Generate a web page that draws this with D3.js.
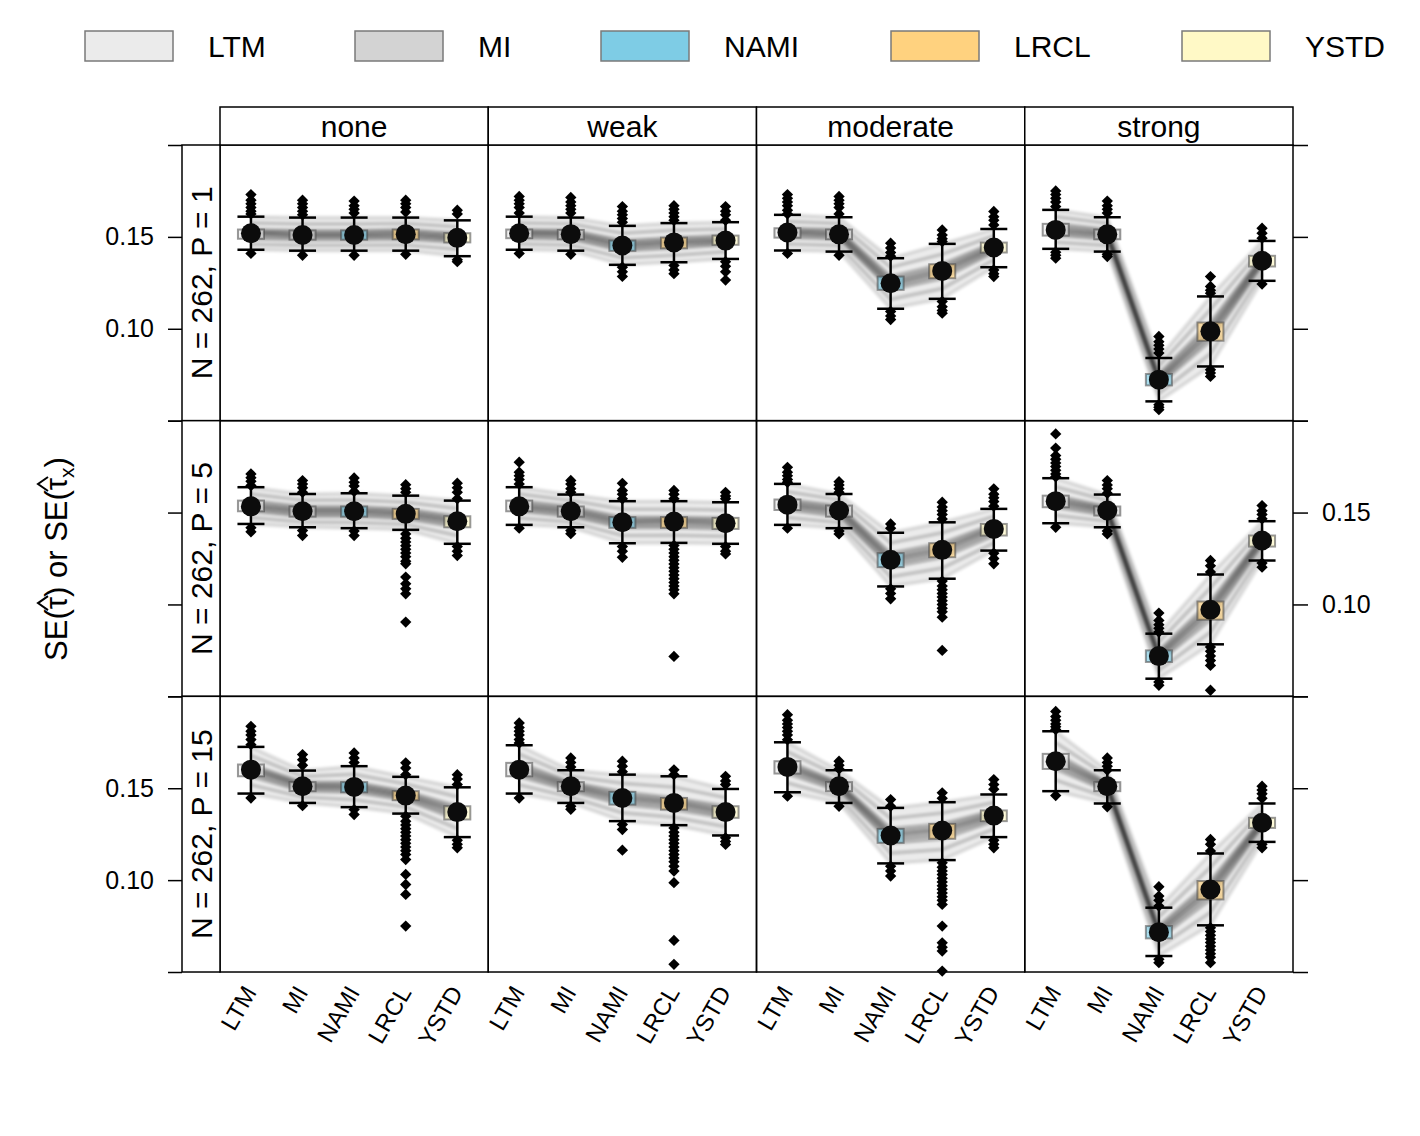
<!DOCTYPE html>
<html>
<head>
<meta charset="utf-8">
<script src="https://cdn.jsdelivr.net/npm/d3@7"></script>
<style>
  body { margin: 0; background: #fff; }
  svg { font-family: "Liberation Sans", Arial, sans-serif; }
</style>
</head>
<body>
<script>
// categories
const methods = ["LTM", "MI", "NAMI", "LRCL", "YSTD"];
const strengths = ["none", "weak", "moderate", "strong"];
const rowLabels = ["N = 262, P = 1", "N = 262, P = 5", "N = 262, P = 15"];
const fills = ["#EBEBEB", "#D3D3D3", "#7ECCE5", "#FFD27F", "#FFF9C6"];
const yTicks = [0.05, 0.10, 0.15, 0.20];
const yLabelled = [0.10, 0.15];

// per panel (row-major: P=1 none..strong, P=5 ..., P=15 ...), per method
const whiskerHigh = [
  [0.161, 0.1605, 0.1605, 0.1605, 0.159],
  [0.161, 0.1605, 0.156, 0.1575, 0.158],
  [0.162, 0.1607, 0.1384, 0.1462, 0.1543],
  [0.1647, 0.1607, 0.0841, 0.1176, 0.1478],
  [0.1638, 0.1601, 0.1605, 0.1592, 0.1565],
  [0.1638, 0.1598, 0.1562, 0.1562, 0.1556],
  [0.1656, 0.1601, 0.139, 0.1447, 0.152],
  [0.1687, 0.1598, 0.0841, 0.1163, 0.1453],
  [0.1725, 0.1596, 0.162, 0.1562, 0.1505],
  [0.1734, 0.1598, 0.1574, 0.1565, 0.1496],
  [0.175, 0.1598, 0.1393, 0.1424, 0.1466],
  [0.181, 0.1598, 0.085, 0.1145, 0.1417]
];
const boxHigh = [
  [0.154, 0.1535, 0.1535, 0.154, 0.152],
  [0.154, 0.1538, 0.148, 0.1496, 0.1507],
  [0.1547, 0.154, 0.1284, 0.1351, 0.1469],
  [0.1571, 0.154, 0.0754, 0.1034, 0.1397],
  [0.1565, 0.1533, 0.1533, 0.152, 0.148],
  [0.1565, 0.1533, 0.1475, 0.1475, 0.1471],
  [0.1571, 0.1538, 0.1279, 0.1333, 0.1438],
  [0.1592, 0.1533, 0.075, 0.1016, 0.1375],
  [0.1629, 0.1533, 0.1533, 0.1484, 0.1402],
  [0.1638, 0.1533, 0.148, 0.1447, 0.1402],
  [0.1647, 0.1533, 0.1279, 0.1306, 0.1379],
  [0.1687, 0.1533, 0.075, 0.0995, 0.1339]
];
const medians = [
  [0.152, 0.151, 0.151, 0.1515, 0.1495],
  [0.152, 0.1515, 0.1453, 0.147, 0.148],
  [0.1524, 0.1514, 0.1248, 0.1315, 0.1442],
  [0.1538, 0.1514, 0.0723, 0.0986, 0.137],
  [0.1534, 0.1507, 0.1507, 0.1493, 0.1453],
  [0.1534, 0.1507, 0.1447, 0.1451, 0.1442],
  [0.1543, 0.1511, 0.1243, 0.1297, 0.1411],
  [0.1562, 0.1511, 0.0719, 0.0971, 0.1348],
  [0.1601, 0.1511, 0.1507, 0.146, 0.137],
  [0.1601, 0.1511, 0.1447, 0.142, 0.137],
  [0.1616, 0.1511, 0.1243, 0.127, 0.1351],
  [0.1647, 0.1511, 0.0717, 0.0949, 0.1312]
];
const boxLow = [
  [0.149, 0.1485, 0.1485, 0.1487, 0.147],
  [0.1493, 0.1487, 0.1424, 0.1438, 0.1457],
  [0.1496, 0.1487, 0.1212, 0.1275, 0.1415],
  [0.1507, 0.1487, 0.0692, 0.0935, 0.1339],
  [0.1507, 0.1478, 0.1478, 0.1466, 0.142],
  [0.1507, 0.1478, 0.1417, 0.1417, 0.1411],
  [0.1514, 0.1478, 0.1203, 0.1257, 0.1375],
  [0.1529, 0.1484, 0.0687, 0.0917, 0.1315],
  [0.1565, 0.1484, 0.1478, 0.1435, 0.133],
  [0.1565, 0.1484, 0.1411, 0.1384, 0.1339],
  [0.158, 0.1484, 0.1203, 0.1225, 0.1321],
  [0.1605, 0.1484, 0.0683, 0.0895, 0.1284]
];
const whiskerLow = [
  [0.143, 0.1425, 0.1425, 0.1425, 0.1395],
  [0.143, 0.1425, 0.1348, 0.1362, 0.138],
  [0.1426, 0.142, 0.1109, 0.1163, 0.1335],
  [0.1435, 0.142, 0.0605, 0.0795, 0.1261],
  [0.1438, 0.142, 0.1415, 0.1406, 0.133],
  [0.1433, 0.142, 0.1333, 0.1335, 0.133],
  [0.1433, 0.1415, 0.1098, 0.114, 0.1293],
  [0.1442, 0.142, 0.0596, 0.0783, 0.1239],
  [0.1471, 0.142, 0.1397, 0.1362, 0.1234],
  [0.1471, 0.142, 0.1321, 0.1299, 0.1243],
  [0.1478, 0.142, 0.1091, 0.1109, 0.1234],
  [0.1484, 0.1417, 0.0587, 0.0754, 0.1208]
];
const outliers = [
  [[0.173, 0.170, 0.168, 0.166, 0.164, 0.1625, 0.141],
   [0.170, 0.168, 0.166, 0.164, 0.162, 0.140],
   [0.1695, 0.167, 0.165, 0.163, 0.140],
   [0.170, 0.168, 0.166, 0.1635, 0.1405],
   [0.1645, 0.1625, 0.1375, 0.1365]],
  [[0.172, 0.170, 0.168, 0.166, 0.163, 0.141],
   [0.1715, 0.169, 0.167, 0.165, 0.163, 0.1405],
   [0.1665, 0.164, 0.162, 0.160, 0.158, 0.1335, 0.131, 0.1285],
   [0.167, 0.165, 0.163, 0.161, 0.159, 0.1345, 0.132, 0.130],
   [0.1665, 0.164, 0.162, 0.159, 0.1365, 0.134, 0.131, 0.1265]],
  [[0.173, 0.171, 0.169, 0.167, 0.1645, 0.1625, 0.141],
   [0.172, 0.170, 0.168, 0.166, 0.1625, 0.140],
   [0.1466, 0.144, 0.1415, 0.1395, 0.1094, 0.107, 0.105],
   [0.1538, 0.151, 0.149, 0.1475, 0.1149, 0.112, 0.110, 0.1085],
   [0.1638, 0.161, 0.159, 0.1565, 0.132, 0.130, 0.1284]],
  [[0.175, 0.173, 0.171, 0.169, 0.1665, 0.1417, 0.140, 0.1384],
   [0.1695, 0.167, 0.165, 0.163, 0.1405, 0.1393],
   [0.0958, 0.093, 0.091, 0.089, 0.0868, 0.0587, 0.0573, 0.056],
   [0.1284, 0.123, 0.121, 0.1194, 0.0777, 0.076, 0.0741],
   [0.1547, 0.152, 0.1493, 0.1243]],
  [[0.171, 0.169, 0.167, 0.1647, 0.1418, 0.1395],
   [0.1674, 0.1655, 0.1635, 0.161, 0.1402, 0.1375],
   [0.1688, 0.1665, 0.1645, 0.1615, 0.140, 0.1375],
   [0.1652, 0.163, 0.161, 0.1384, 0.136, 0.134, 0.132, 0.130, 0.128, 0.126, 0.1235, 0.1221,
    0.1149, 0.1112, 0.1085, 0.1058, 0.0904],
   [0.166, 0.1635, 0.161, 0.1575, 0.1315, 0.129, 0.1266]],
  [[0.1774, 0.172, 0.170, 0.168, 0.1655, 0.1415],
   [0.1675, 0.1655, 0.163, 0.161, 0.1402, 0.1385],
   [0.1659, 0.162, 0.160, 0.1575, 0.1315, 0.129, 0.1257],
   [0.162, 0.160, 0.1575, 0.1321, 0.130, 0.128, 0.126, 0.124, 0.122, 0.120, 0.118, 0.116,
    0.114, 0.112, 0.110, 0.108, 0.1058, 0.0717],
   [0.161, 0.159, 0.1575, 0.1315, 0.129, 0.1275]],
  [[0.1746, 0.172, 0.170, 0.168, 0.1665, 0.1415],
   [0.1668, 0.165, 0.163, 0.161, 0.140, 0.1384],
   [0.1438, 0.1415, 0.1085, 0.106, 0.1031],
   [0.1556, 0.153, 0.151, 0.149, 0.1465, 0.1127, 0.110, 0.108, 0.106, 0.104, 0.102, 0.100,
    0.098, 0.096, 0.0931, 0.075],
   [0.1629, 0.160, 0.158, 0.156, 0.1535, 0.1279, 0.125, 0.1221]],
  [[0.1928, 0.1851, 0.181, 0.179, 0.177, 0.175, 0.173, 0.171, 0.1695, 0.142],
   [0.1674, 0.165, 0.163, 0.1605, 0.140, 0.1384],
   [0.0953, 0.0913, 0.089, 0.087, 0.085, 0.0578, 0.056],
   [0.1239, 0.121, 0.1176, 0.0768, 0.0745, 0.072, 0.0695, 0.0668, 0.0533],
   [0.1538, 0.151, 0.149, 0.1466, 0.1225, 0.1203]],
  [[0.1837, 0.181, 0.179, 0.1765, 0.1737, 0.1447],
   [0.1683, 0.1655, 0.1625, 0.1405],
   [0.1692, 0.1665, 0.164, 0.1384, 0.1357],
   [0.1638, 0.161, 0.1574, 0.1348, 0.132, 0.130, 0.128, 0.126, 0.124, 0.122, 0.120, 0.118,
    0.116, 0.114, 0.1112, 0.1031, 0.0976, 0.0922, 0.075],
   [0.1574, 0.155, 0.152, 0.1217, 0.1195, 0.1176]],
  [[0.1855, 0.183, 0.181, 0.179, 0.1765, 0.1746, 0.1447],
   [0.1665, 0.164, 0.1615, 0.1402, 0.1385],
   [0.1647, 0.162, 0.159, 0.1303, 0.1275, 0.1163],
   [0.160, 0.1574, 0.1284, 0.126, 0.124, 0.122, 0.120, 0.118, 0.116, 0.114, 0.112, 0.110,
    0.1075, 0.1049, 0.0986, 0.0672, 0.0542],
   [0.1565, 0.154, 0.152, 0.123, 0.121, 0.1194]],
  [[0.19, 0.187, 0.185, 0.183, 0.181, 0.179, 0.1764, 0.1457],
   [0.1647, 0.1625, 0.1605, 0.1402],
   [0.1438, 0.1402, 0.1076, 0.105, 0.1022],
   [0.1475, 0.1445, 0.1094, 0.107, 0.105, 0.103, 0.101, 0.099, 0.097, 0.095, 0.093, 0.091,
    0.089, 0.0868, 0.075, 0.0659, 0.0635, 0.0614, 0.0505],
   [0.1547, 0.152, 0.1495, 0.1217, 0.1195, 0.1176]],
  [[0.1918, 0.189, 0.187, 0.185, 0.1835, 0.1819, 0.146],
   [0.1665, 0.164, 0.162, 0.1599, 0.1399],
   [0.0964, 0.0913, 0.089, 0.0859, 0.0569, 0.0551],
   [0.1221, 0.1195, 0.1158, 0.0741, 0.072, 0.070, 0.068, 0.066, 0.064, 0.062, 0.060, 0.058,
    0.0551],
   [0.1511, 0.149, 0.147, 0.1445, 0.1195, 0.1176]]
];

const svgWidth = 1420, svgHeight = 1136;
const panelLeft = 220, panelTop = 145, panelW = 268.25, panelH = 275.67;
const stripTop = 107, stripLeft = 182;

const svg = d3.select("body").append("svg")
    .attr("width", svgWidth)
    .attr("height", svgHeight);

// soft edges for the replicate band
svg.append("defs").append("filter")
    .attr("id", "soft")
    .append("feGaussianBlur")
    .attr("stdDeviation", 1.2);

// legend
const legendX = [85, 355, 601, 891, 1182];
const legend = svg.selectAll(".legend")
    .data(methods)
    .enter()
    .append("g")
    .attr("class", "legend")
    .attr("transform", (d, i) => "translate(" + legendX[i] + ",31)");
legend.append("rect")
    .attr("width", 88)
    .attr("height", 30)
    .attr("fill", (d, i) => fills[i])
    .attr("stroke", "#7a7a7a")
    .attr("stroke-width", 1.5);
legend.append("text")
    .attr("x", 123)
    .attr("y", 26)
    .attr("font-size", 30)
    .text(d => d);

const diamond = d3.symbol().type(d3.symbolSquare).size(64);

// band levels between the box statistics: [lower stat, upper stat, weight of lower, opacity]
const bandLevels = [
    ["wl", "wl", 1, 0.1], ["wl", "q1", 0.5, 0.16], ["q1", "q1", 1, 0.22],
    ["q1", "med", 0.5, 0.28], ["med", "med", 1, 0.34], ["med", "q3", 0.5, 0.28],
    ["q3", "q3", 1, 0.22], ["q3", "wh", 0.5, 0.16], ["wh", "wh", 1, 0.1]
];

for (let r = 0; r < 3; r++) {
    const y = d3.scaleLinear().domain([0.05, 0.2])
        .range([panelTop + (r + 1) * panelH, panelTop + r * panelH]);

    for (let c = 0; c < 4; c++) {
        const k = r * 4 + c;
        const x0 = panelLeft + c * panelW;
        const x = d3.scalePoint().domain(methods).range([x0, x0 + panelW]).padding(0.6);
        const g = svg.append("g");
        const stats = methods.map((m, i) => ({
            m: m, i: i,
            wh: whiskerHigh[k][i], q3: boxHigh[k][i], med: medians[k][i],
            q1: boxLow[k][i], wl: whiskerLow[k][i], out: outliers[k][i]
        }));

        // replicate lines, drawn as a soft bundle through the box statistics
        const band = g.append("g").attr("filter", "url(#soft)");
        band.append("path")
            .attr("d", d3.area().x(d => x(d.m)).y0(d => y(d.wl)).y1(d => y(d.wh))(stats))
            .attr("fill", "#000").attr("opacity", 0.08);
        bandLevels.forEach(([a, b, w, op]) => {
            band.append("path")
                .attr("d", d3.line().x(d => x(d.m)).y(d => y(w * d[a] + (1 - w) * d[b]))(stats))
                .attr("fill", "none")
                .attr("stroke", "#000")
                .attr("stroke-opacity", op)
                .attr("stroke-width", 4);
        });

        // boxes
        g.selectAll(".box").data(stats).enter().append("rect")
            .attr("x", d => x(d.m) - 13)
            .attr("width", 26)
            .attr("y", d => y(d.q3))
            .attr("height", d => y(d.q1) - y(d.q3))
            .attr("fill", d => fills[d.i])
            .attr("fill-opacity", 0.65)
            .attr("stroke", "#444")
            .attr("stroke-opacity", 0.55)
            .attr("stroke-width", 2);

        // whiskers
        const wk = g.selectAll(".wk").data(stats).enter().append("g");
        wk.append("line")
            .attr("x1", d => x(d.m)).attr("x2", d => x(d.m))
            .attr("y1", d => y(d.wh)).attr("y2", d => y(d.q3));
        wk.append("line")
            .attr("x1", d => x(d.m)).attr("x2", d => x(d.m))
            .attr("y1", d => y(d.q1)).attr("y2", d => y(d.wl));
        wk.append("line")
            .attr("x1", d => x(d.m) - 13.5).attr("x2", d => x(d.m) + 13.5)
            .attr("y1", d => y(d.wh)).attr("y2", d => y(d.wh));
        wk.append("line")
            .attr("x1", d => x(d.m) - 13.5).attr("x2", d => x(d.m) + 13.5)
            .attr("y1", d => y(d.wl)).attr("y2", d => y(d.wl));
        wk.selectAll("line").attr("stroke", "#000").attr("stroke-width", 2.5);

        // outliers
        stats.forEach(d => {
            g.selectAll(null).data(d.out).enter().append("path")
                .attr("d", diamond)
                .attr("transform", v => "translate(" + x(d.m) + "," + y(v) + ") rotate(45)")
                .attr("fill", "#000");
        });

        // medians
        g.selectAll(".med").data(stats).enter().append("circle")
            .attr("cx", d => x(d.m))
            .attr("cy", d => y(d.med))
            .attr("r", 10)
            .attr("fill", "#0c0c0c");

        // panel border
        svg.append("rect")
            .attr("x", x0).attr("y", panelTop + r * panelH)
            .attr("width", panelW).attr("height", panelH)
            .attr("fill", "none").attr("stroke", "#000").attr("stroke-width", 1.5);

        // rotated method labels under the last row
        if (r === 2) {
            svg.append("g").selectAll("text").data(methods).enter().append("text")
                .attr("transform", d => "translate(" + (x(d) - 1) + ",988) rotate(-60)")
                .attr("text-anchor", "end")
                .attr("dominant-baseline", "central")
                .attr("font-size", 24)
                .text(d => d);
        }
    }

    // y axes on both sides, labels alternating
    const fmt = d3.format(".2f");
    const leftAxis = d3.axisLeft(y).tickValues(yTicks).tickSize(14).tickPadding(14)
        .tickFormat(d => (r !== 1 && yLabelled.includes(d)) ? fmt(d) : "");
    const rightAxis = d3.axisRight(y).tickValues(yTicks).tickSize(15).tickPadding(14)
        .tickFormat(d => (r === 1 && yLabelled.includes(d)) ? fmt(d) : "");
    const ga = svg.append("g").attr("transform", "translate(" + stripLeft + ",0)").call(leftAxis);
    const gb = svg.append("g").attr("transform", "translate(" + (panelLeft + 4 * panelW) + ",0)").call(rightAxis);
    [ga, gb].forEach(a => {
        a.select(".domain").remove();
        a.selectAll("line").attr("stroke", "#000").attr("stroke-width", 1.5);
        a.selectAll("text").attr("font-size", 25).attr("fill", "#000")
            .attr("font-family", "Liberation Sans, Arial, sans-serif");
    });

    // left strip
    svg.append("rect")
        .attr("x", stripLeft).attr("y", panelTop + r * panelH)
        .attr("width", panelLeft - stripLeft).attr("height", panelH)
        .attr("fill", "#fff").attr("stroke", "#000").attr("stroke-width", 1.5);
    svg.append("text")
        .attr("transform", "translate(212," + (panelTop + (r + 0.5) * panelH) + ") rotate(-90)")
        .attr("text-anchor", "middle")
        .attr("font-size", 30)
        .text(rowLabels[r]);
}

// top strips
strengths.forEach((s, c) => {
    svg.append("rect")
        .attr("x", panelLeft + c * panelW).attr("y", stripTop)
        .attr("width", panelW).attr("height", panelTop - stripTop)
        .attr("fill", "#fff").attr("stroke", "#000").attr("stroke-width", 1.5);
    svg.append("text")
        .attr("x", panelLeft + (c + 0.5) * panelW).attr("y", 137)
        .attr("text-anchor", "middle")
        .attr("font-size", 30)
        .text(s);
});

// y axis title: SE(tau-hat) or SE(tau-hat_x), hats drawn over tau
const titleG = svg.append("g").attr("transform", "translate(67,559) rotate(-90)");
const titleInner = titleG.append("g");
const titleParts = [
    { t: "SE(", size: 31 },
    { t: "\u03C4", size: 31, hat: true },
    { t: ") or SE(", size: 31 },
    { t: "\u03C4", size: 31, hat: true },
    { t: "x", size: 21, dy: 7 },
    { t: ")", size: 31 }
];
let cursor = 0;
titleParts.forEach(p => {
    const t = titleInner.append("text")
        .attr("x", cursor).attr("y", p.dy || 0)
        .attr("font-size", p.size)
        .text(p.t);
    const w = t.node().getComputedTextLength();
    if (p.hat) {
        const cx = cursor + w / 2;
        titleInner.append("path")
            .attr("d", "M" + (cx - 7) + ",-19L" + cx + ",-29L" + (cx + 7) + ",-19")
            .attr("fill", "none")
            .attr("stroke", "#000")
            .attr("stroke-width", 2);
    }
    cursor += w;
});
titleInner.attr("transform", "translate(" + (-cursor / 2) + ",0)");
</script>
</body>
</html>
